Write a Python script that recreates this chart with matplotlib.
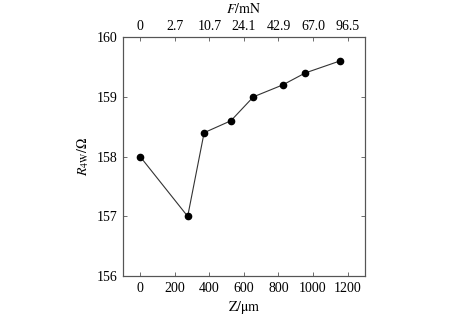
import matplotlib
matplotlib.use("Agg")
import matplotlib.pyplot as plt

plt.rcParams['font.family'] = ['Liberation Serif', 'DejaVu Serif']
plt.rcParams['mathtext.fontset'] = 'stix'

# data
z_um = [0, 275, 370, 525, 655, 825, 955, 1155]
r4w = [158.0, 157.0, 158.4, 158.6, 159.0, 159.2, 159.4, 159.6]
z_ticks = [0, 200, 400, 600, 800, 1000, 1200]
f_labels = ['0', '2.7', '10.7', '24.1', '42.9', '67.0', '96.5']
r_ticks = [156, 157, 158, 159, 160]

axis_col = '#555555'
fs = 10

fig = plt.figure(figsize=(4.55, 3.17), dpi=100)
ax = fig.add_axes([0.270, 0.129, 0.532, 0.754])

ax.plot(z_um, r4w, color='#333333', lw=0.8, marker='o', ms=4.5,
        mfc='black', mec='black', zorder=3)

ax.set_xlim(-100, 1300)
ax.set_ylim(156, 160)
ax.set_xticks(z_ticks)
ax.set_yticks(r_ticks)
ax.tick_params(direction='in', length=3, width=0.6, color=axis_col,
               labelsize=fs, right=True, pad=4)
for s in ax.spines.values():
    s.set_color(axis_col)
    s.set_linewidth(0.8)

ax.set_xlabel(r'$\mathrm{Z/\mu m}$', fontsize=fs, labelpad=3)
ax.set_ylabel(r'$R_{\mathrm{4W}}/\Omega$', fontsize=fs, labelpad=4)

top = ax.twiny()
top.set_xlim(ax.get_xlim())
top.set_xticks(z_ticks)
top.set_xticklabels(f_labels)
top.tick_params(direction='in', length=3, width=0.6, color=axis_col,
                labelsize=fs, pad=3)
for s in top.spines.values():
    s.set_color(axis_col)
    s.set_linewidth(0.8)
top.set_xlabel(r'$F/\mathrm{mN}$', fontsize=fs, labelpad=5)

fig.savefig('out.png', dpi=100)
